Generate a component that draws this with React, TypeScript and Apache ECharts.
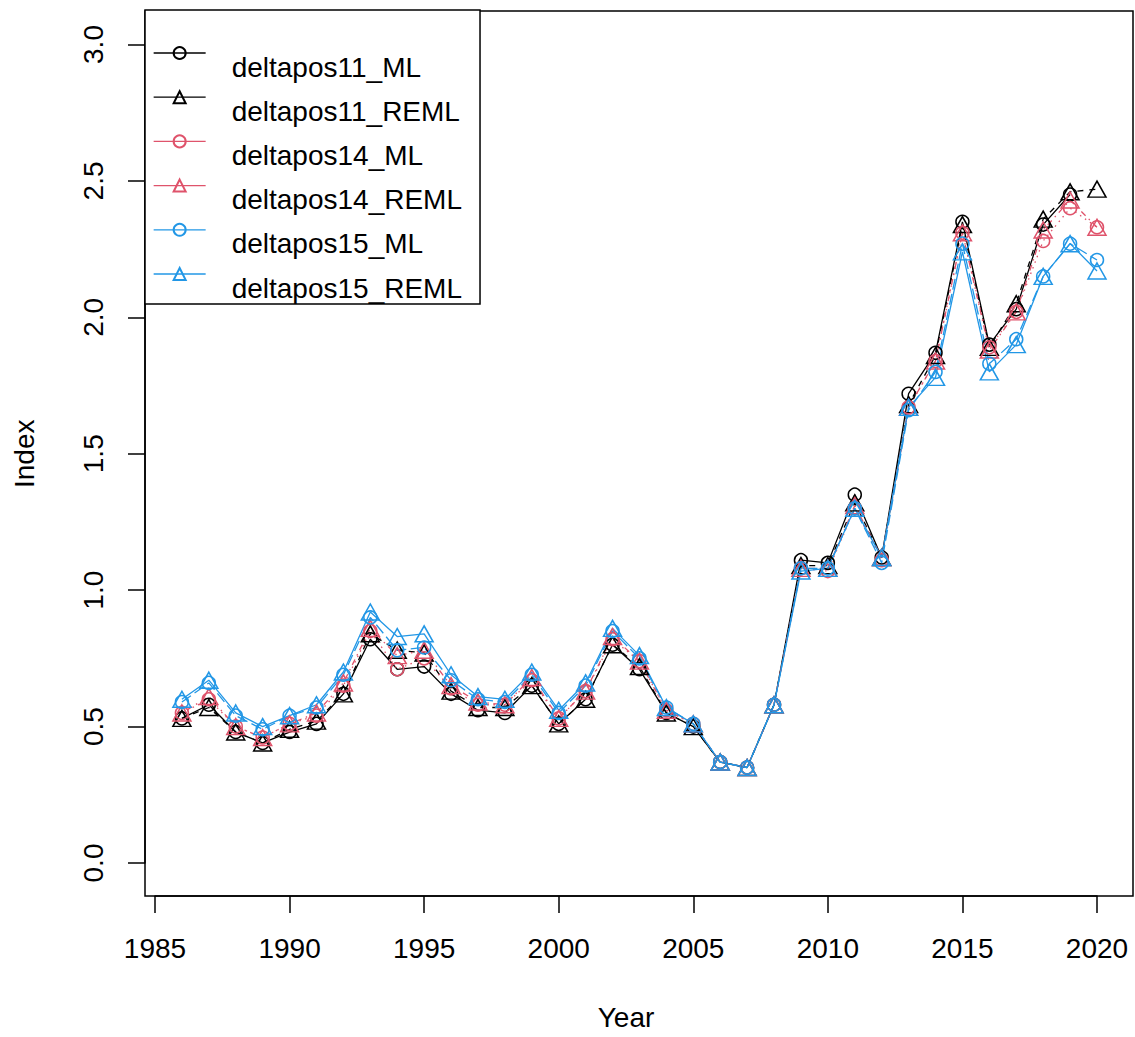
import React, { useEffect, useRef } from "react";
import * as echarts from "echarts";

const years = [1986, 1987, 1988, 1989, 1990, 1991, 1992, 1993, 1994, 1995, 1996, 1997, 1998, 1999, 2000, 2001, 2002, 2003, 2004, 2005, 2006, 2007, 2008, 2009, 2010, 2011, 2012, 2013, 2014, 2015, 2016, 2017, 2018, 2019, 2020];

const deltapos11_ML = [0.53, 0.58, 0.48, 0.44, 0.48, 0.51, 0.62, 0.82, 0.71, 0.72, 0.62, 0.56, 0.55, 0.65, 0.51, 0.60, 0.80, 0.71, 0.55, 0.50, 0.37, 0.35, 0.58, 1.11, 1.10, 1.35, 1.12, 1.72, 1.87, 2.35, 1.90, 2.03, 2.34, 2.45, null];
const deltapos11_REML = [0.53, 0.57, 0.48, 0.44, 0.49, 0.52, 0.62, 0.84, 0.78, 0.77, 0.63, 0.57, 0.57, 0.65, 0.51, 0.60, 0.80, 0.72, 0.55, 0.50, 0.37, 0.35, 0.58, 1.09, 1.09, 1.32, 1.12, 1.68, 1.86, 2.34, 1.89, 2.05, 2.36, 2.46, 2.47];
const deltapos14_ML = [0.55, 0.60, 0.50, 0.46, 0.51, 0.54, 0.65, 0.85, 0.71, 0.75, 0.64, 0.58, 0.58, 0.67, 0.53, 0.63, 0.82, 0.74, 0.56, 0.51, 0.37, 0.35, 0.58, 1.08, 1.07, 1.30, 1.11, 1.67, 1.84, 2.31, 1.89, 2.02, 2.28, 2.40, 2.33];
const deltapos14_REML = [0.55, 0.61, 0.50, 0.46, 0.51, 0.55, 0.66, 0.86, 0.76, 0.78, 0.65, 0.59, 0.58, 0.68, 0.53, 0.63, 0.83, 0.74, 0.56, 0.51, 0.37, 0.35, 0.58, 1.08, 1.08, 1.31, 1.12, 1.67, 1.84, 2.31, 1.88, 2.02, 2.32, 2.43, 2.33];
const deltapos15_ML = [0.59, 0.66, 0.54, 0.49, 0.54, 0.57, 0.69, 0.90, 0.78, 0.79, 0.67, 0.60, 0.59, 0.69, 0.55, 0.65, 0.85, 0.75, 0.57, 0.51, 0.37, 0.35, 0.58, 1.08, 1.08, 1.30, 1.10, 1.66, 1.80, 2.27, 1.83, 1.92, 2.15, 2.27, 2.21];
const deltapos15_REML = [0.60, 0.67, 0.55, 0.50, 0.54, 0.58, 0.70, 0.92, 0.83, 0.84, 0.69, 0.61, 0.60, 0.70, 0.56, 0.66, 0.86, 0.76, 0.57, 0.51, 0.37, 0.35, 0.58, 1.07, 1.08, 1.30, 1.12, 1.67, 1.78, 2.24, 1.80, 1.90, 2.15, 2.27, 2.17];

const seriesNames = ["deltapos11_ML", "deltapos11_REML", "deltapos14_ML", "deltapos14_REML", "deltapos15_ML", "deltapos15_REML"];
const seriesValues = [deltapos11_ML, deltapos11_REML, deltapos14_ML, deltapos14_REML, deltapos15_ML, deltapos15_REML];
const seriesColors = ["#000000", "#000000", "#DF536B", "#DF536B", "#2297E6", "#2297E6"];
const seriesSymbols = ["circle", "triangle", "circle", "triangle", "circle", "triangle"];
const seriesDashes: any[] = ["solid", [6, 6], [1.5, 4.5], [1.5, 4.5, 6, 4.5], [11, 4.5], "solid"];

export default function App() {
  const ref = useRef<HTMLDivElement>(null);
  useEffect(() => {
    const chart = echarts.init(ref.current!, null, { renderer: "svg" });
    const font = "'Liberation Sans', Arial, sans-serif";
    const textBase = { fontFamily: font, fontSize: 28, color: "#000" };
    const series = seriesNames.map((name, k) => ({
      name,
      type: "line",
      xAxisIndex: 1,
      yAxisIndex: 1,
      data: years.map((y, i) => [y, seriesValues[k][i]]),
      symbol: seriesSymbols[k],
      symbolSize: seriesSymbols[k] === "circle" ? 13 : [18, 16],
      showAllSymbol: true,
      clip: false,
      connectNulls: false,
      itemStyle: { color: "rgba(0,0,0,0)", borderColor: seriesColors[k], borderWidth: 1.5 },
      lineStyle: { color: seriesColors[k], width: 1.3, type: seriesDashes[k] },
      emphasis: { disabled: true },
    }));
    chart.setOption({
      animation: false,
      backgroundColor: "#fff",
      grid: [
        { left: 145, top: 11, width: 988, height: 885, show: true, borderColor: "#000", borderWidth: 1.5, backgroundColor: "transparent" },
        { left: 155, top: 44.5, width: 942, height: 818.5 },
      ],
      xAxis: [
        { gridIndex: 0, type: "value", min: 0, max: 1, show: false },
        {
          gridIndex: 1, type: "value", min: 1985, max: 2020, interval: 5, offset: 33,
          axisLine: { show: true, onZero: false, lineStyle: { color: "#000", width: 1.5 } },
          axisTick: { show: true, length: 17, lineStyle: { color: "#000", width: 1.5 } },
          axisLabel: { ...textBase, margin: 38, formatter: (v: number) => String(v) },
          splitLine: { show: false },
          name: "Year", nameLocation: "middle", nameGap: 107, nameTextStyle: textBase,
        },
      ],
      yAxis: [
        { gridIndex: 0, type: "value", min: 0, max: 1, show: false },
        {
          gridIndex: 1, type: "value", min: 0, max: 3, interval: 0.5, offset: 10,
          axisLine: { show: true, onZero: false, lineStyle: { color: "#000", width: 1.5 } },
          axisTick: { show: true, length: 17, lineStyle: { color: "#000", width: 1.5 } },
          axisLabel: { ...textBase, margin: 38, rotate: 90, formatter: (v: number) => v.toFixed(1) },
          splitLine: { show: false },
          name: "Index", nameLocation: "middle", nameGap: 107, nameRotate: 90, nameTextStyle: textBase,
        },
      ],
      legend: {
        orient: "vertical",
        left: 145,
        top: 10,
        padding: [36, 18, 2, 8],
        itemWidth: 52,
        itemHeight: 15,
        itemGap: 9.2,
        backgroundColor: "#fff",
        borderColor: "#000",
        borderWidth: 1.5,
        selectedMode: false,
        formatter: (name: string) => "{t|" + name + "}",
        textStyle: {
          ...textBase,
          rich: { t: { ...textBase, padding: [28, 0, 0, 21] } },
        },
        lineStyle: { type: "solid", width: 1.3 },
        data: seriesNames,
      },
      series,
    });
    return () => chart.dispose();
  }, []);
  return (
    <div
      ref={ref}
      style={{ position: "absolute", left: 0, top: 0, width: 1135, height: 1037, background: "#fff" }}
    />
  );
}
